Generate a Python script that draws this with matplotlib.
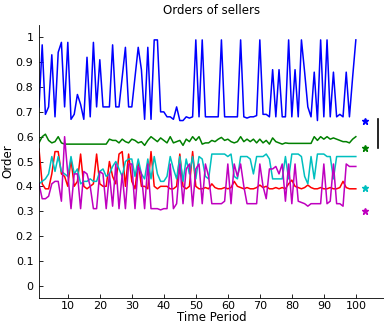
import matplotlib
matplotlib.use("Agg")
import matplotlib.pyplot as plt
import numpy as np

# periods 1..100
t = np.arange(1, 101)

blue = [0.72, 0.97, 0.69, 0.72, 0.93, 0.68, 0.94, 0.98, 0.72, 0.98,
        0.67, 0.69, 0.77, 0.73, 0.67, 0.92, 0.68, 0.98, 0.72, 0.91,
        0.72, 0.72, 0.72, 0.97, 0.72, 0.72, 0.84, 0.96, 0.72, 0.72,
        0.84, 0.96, 0.87, 0.67, 0.96, 0.67, 0.99, 0.99, 0.70, 0.70,
        0.68, 0.68, 0.67, 0.72, 0.665, 0.665, 0.68, 0.675, 0.68, 0.99,
        0.68, 0.99, 0.68, 0.68, 0.68, 0.68, 0.68, 0.99, 0.68, 0.68,
        0.68, 0.68, 0.68, 0.99, 0.68, 0.675, 0.68, 0.68, 0.685, 0.99,
        0.69, 0.69, 0.68, 0.87, 0.68, 0.87, 0.68, 0.68, 0.99, 0.68,
        0.87, 0.68, 0.99, 0.86, 0.72, 0.68, 0.86, 0.665, 0.99, 0.68,
        0.99, 0.68, 0.86, 0.68, 0.69, 0.68, 0.86, 0.68, 0.84, 0.99]

green = [0.575, 0.60, 0.61, 0.585, 0.575, 0.58, 0.60, 0.575, 0.57, 0.57,
         0.57, 0.57, 0.57, 0.57, 0.57, 0.57, 0.57, 0.57, 0.57, 0.57,
         0.57, 0.57, 0.59, 0.585, 0.585, 0.575, 0.59, 0.58, 0.575, 0.59,
         0.585, 0.575, 0.58, 0.565, 0.585, 0.60, 0.59, 0.58, 0.595, 0.585,
         0.575, 0.60, 0.575, 0.58, 0.585, 0.565, 0.59, 0.58, 0.60, 0.585,
         0.60, 0.57, 0.575, 0.575, 0.585, 0.58, 0.59, 0.597, 0.585, 0.59,
         0.58, 0.575, 0.58, 0.60, 0.58, 0.59, 0.58, 0.59, 0.575, 0.59,
         0.575, 0.585, 0.57, 0.595, 0.58, 0.575, 0.57, 0.575, 0.573, 0.573,
         0.573, 0.573, 0.573, 0.573, 0.573, 0.573, 0.60, 0.585, 0.60, 0.59,
         0.60, 0.59, 0.595, 0.59, 0.585, 0.58, 0.58, 0.575, 0.59, 0.60]

red = [0.55, 0.41, 0.39, 0.39, 0.45, 0.54, 0.54, 0.45, 0.44, 0.40,
       0.51, 0.40, 0.42, 0.53, 0.40, 0.39, 0.40, 0.41, 0.53, 0.41,
       0.40, 0.40, 0.50, 0.44, 0.41, 0.53, 0.54, 0.40, 0.53, 0.42,
       0.39, 0.50, 0.40, 0.40, 0.39, 0.54, 0.40, 0.39, 0.40, 0.40,
       0.40, 0.39, 0.39, 0.40, 0.53, 0.40, 0.39, 0.40, 0.54, 0.40,
       0.39, 0.39, 0.395, 0.39, 0.41, 0.395, 0.39, 0.39, 0.395, 0.39,
       0.395, 0.42, 0.40, 0.395, 0.39, 0.395, 0.39, 0.39, 0.395, 0.405,
       0.395, 0.40, 0.39, 0.39, 0.395, 0.39, 0.395, 0.39, 0.41, 0.425,
       0.40, 0.395, 0.39, 0.395, 0.405, 0.395, 0.39, 0.39, 0.395, 0.39,
       0.39, 0.395, 0.39, 0.39, 0.395, 0.42, 0.395, 0.39, 0.39, 0.39]

cyan = [0.41, 0.42, 0.43, 0.45, 0.52, 0.46, 0.52, 0.46, 0.45, 0.44,
        0.52, 0.45, 0.47, 0.41, 0.42, 0.42, 0.43, 0.42, 0.42, 0.46,
        0.47, 0.44, 0.45, 0.48, 0.50, 0.47, 0.44, 0.50, 0.51, 0.51,
        0.44, 0.51, 0.45, 0.43, 0.51, 0.43, 0.52, 0.45, 0.42, 0.42,
        0.44, 0.52, 0.47, 0.43, 0.52, 0.42, 0.51, 0.45, 0.52, 0.43,
        0.52, 0.51, 0.44, 0.43, 0.53, 0.53, 0.53, 0.53, 0.53, 0.52,
        0.53, 0.44, 0.43, 0.52, 0.52, 0.52, 0.51, 0.45, 0.52, 0.52,
        0.52, 0.53, 0.51, 0.43, 0.43, 0.43, 0.43, 0.52, 0.43, 0.53,
        0.53, 0.53, 0.52, 0.44, 0.41, 0.52, 0.43, 0.53, 0.53, 0.53,
        0.52, 0.52, 0.43, 0.52, 0.52, 0.52, 0.52, 0.52, 0.52, 0.52]

magenta = [0.41, 0.35, 0.35, 0.36, 0.41, 0.42, 0.42, 0.34, 0.60, 0.45,
           0.31, 0.45, 0.45, 0.31, 0.46, 0.45, 0.40, 0.31, 0.31, 0.46,
           0.45, 0.31, 0.45, 0.32, 0.49, 0.31, 0.45, 0.31, 0.49, 0.49,
           0.31, 0.48, 0.45, 0.31, 0.49, 0.31, 0.31, 0.31, 0.305, 0.31,
           0.31, 0.49, 0.31, 0.33, 0.49, 0.33, 0.47, 0.49, 0.32, 0.47,
           0.49, 0.33, 0.49, 0.44, 0.33, 0.33, 0.33, 0.33, 0.34, 0.49,
           0.33, 0.49, 0.44, 0.49, 0.40, 0.33, 0.33, 0.33, 0.33, 0.49,
           0.40, 0.35, 0.47, 0.47, 0.48, 0.45, 0.49, 0.34, 0.49, 0.33,
           0.49, 0.34, 0.335, 0.33, 0.32, 0.33, 0.33, 0.33, 0.33, 0.49,
           0.33, 0.34, 0.49, 0.33, 0.33, 0.32, 0.49, 0.48, 0.48, 0.48]

# end markers (stars) and the black bar
star_x = 103
star_y = [0.662, 0.553, 0.392, 0.302]
bar_x = 107
bar_y = [0.553, 0.672]

colors = ['#0000ff', '#008000', '#ff0000', '#00bfbf', '#bf00bf']

fig = plt.figure(figsize=(3.84, 3.23), dpi=100)
ax = fig.add_axes([39/384, 25/323, 1 - 39/384, 273/323])

for s, c in zip([blue, green, red, cyan, magenta], colors):
    ax.plot(t, s, color=c, linewidth=1.1)

for yv, c in zip(star_y, [colors[0], colors[1], colors[3], colors[4]]):
    ax.plot(star_x, yv, marker='*', color=c, markersize=4.5, linestyle='none')
ax.plot([bar_x, bar_x], bar_y, color='black', linewidth=1.2)

ax.set_xlim(1, 108.8)
ax.set_ylim(-0.05, 1.05)
ax.set_xticks(np.arange(10, 101, 10))
ax.set_yticks(np.arange(0, 1.01, 0.1))
ax.set_yticklabels(['0', '0.1', '0.2', '0.3', '0.4', '0.5', '0.6', '0.7', '0.8', '0.9', '1'])
ax.spines['top'].set_visible(False)
ax.spines['right'].set_visible(False)
ax.tick_params(direction='in', length=3, labelsize=8, width=0.6)
ax.tick_params(axis='x', pad=2)
ax.tick_params(axis='y', pad=4)
ax.spines['left'].set_linewidth(0.6)
ax.spines['bottom'].set_linewidth(0.6)

ax.set_title("Orders of sellers", fontsize=8.5, pad=8)
ax.set_xlabel("Time Period", fontsize=8.5, labelpad=0)
ax.set_ylabel("Order", fontsize=8.5, labelpad=1)

fig.savefig("out.png", dpi=100)
